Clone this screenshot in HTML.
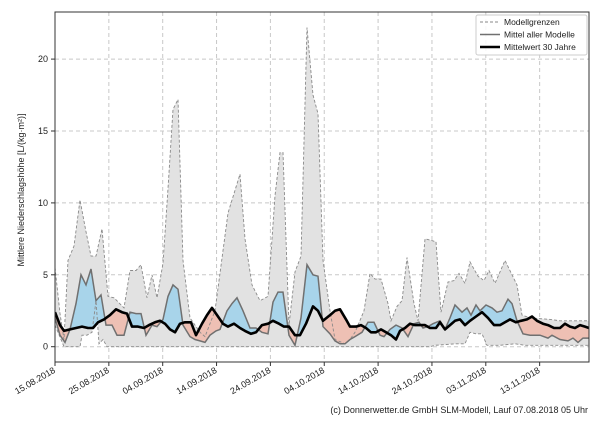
<!DOCTYPE html>
<html><head><meta charset="utf-8"><style>
body{margin:0;background:#fff;width:600px;height:420px;overflow:hidden;font-family:"Liberation Sans",sans-serif}
</style></head><body>
<svg id="s" width="600" height="420" xmlns="http://www.w3.org/2000/svg" font-family="Liberation Sans, sans-serif"></svg>
<script>
const Y=v=>346.7-v*14.38;
const mx=[[55,5.5],[60,2.3],[64,0.5],[68,6],[74,7],[80,10.2],[86,8],[91,6.3],[96,6.3],[102,8.2],[108,3.5],[114,3.4],[124,2.7],[130,5.3],[136,5.3],[141,5.7],[147,3.4],[152,5],[157,3.4],[163,5.8],[168,11],[173,16.5],[178,17.2],[183,6],[190,2],[195,1.5],[200,1],[205,0.7],[215,2.5],[228,9.3],[240,12],[245,7.5],[252,4.3],[260,3.2],[268,3.5],[275,10.5],[280,13.5],[283,13.5],[289,1.5],[295,5.2],[301,6.3],[307,22.2],[313,17.5],[318,16.2],[323,6],[330,2.5],[335,0.5],[345,0.2],[350,0.5],[355,1],[364,2.5],[370,5.1],[375,4.7],[381,4.7],[388,3],[391,1.8],[397,2.8],[402,3.2],[407,6.2],[414,3],[418,1.8],[425,7.5],[436,7.3],[441,2.4],[448,4.5],[454,4.6],[459,5.1],[465,4.4],[470,5.9],[478,4.9],[484,4.6],[489,5.3],[495,4.4],[505,6],[512,5],[517,4.3],[522,2.2],[530,2],[550,1.9],[560,1.8],[589,1.8]];
const mn=[[55,1.5],[64,0],[80,0],[82,0.8],[87,0.8],[92,1],[96,3.2],[99,0.2],[103,0.5],[107,0],[430,0],[435,0.1],[455,0.2],[465,0.2],[470,1.0],[476,0.9],[482,0.9],[487,0.1],[500,0.1],[515,0.2],[525,0.1],[589,0.1]];
const me=[[55,2],[60,0.8],[65,0.3],[70,1.2],[76,3],[81,5],[86,4.3],[91,5.4],[96,3.2],[101,3.6],[106,1.5],[112,1.5],[117,0.8],[124,0.8],[130,2.4],[136,2.3],[141,2.3],[146,0.8],[152,1.5],[157,1.4],[163,1.9],[168,3.5],[173,4.3],[178,4],[183,1.5],[190,0.7],[195,0.5],[200,0.4],[205,0.3],[210,0.8],[216,1.1],[220,1.2],[227,2.5],[232,3],[237,3.4],[243,2.5],[250,1.3],[256,1.3],[262,1.0],[268,0.9],[273,3.1],[278,3.8],[283,3.8],[289,0.8],[295,0.1],[301,2],[307,5.7],[313,5],[318,4.9],[323,1.4],[330,0.9],[335,0.4],[340,0.2],[345,0.2],[350,0.5],[355,0.7],[362,1.0],[368,1.7],[374,1.7],[380,0.8],[384,0.7],[390,1.2],[396,1.5],[402,1.3],[408,0.7],[414,1.6],[419,1.7],[423,1.3],[428,1.4],[433,1.6],[440,1.8],[445,1.2],[450,2.0],[455,2.9],[462,2.4],[467,2.7],[471,2.2],[476,2.9],[480,2.5],[486,2.9],[492,2.7],[497,2.4],[502,2.5],[508,3.3],[512,3.0],[517,1.8],[523,0.9],[530,0.8],[540,0.8],[548,0.6],[552,0.8],[560,0.5],[568,0.4],[573,0.6],[578,0.3],[583,0.6],[589,0.6]];
const cl=[[55,2.4],[60,1.5],[64,1.1],[70,1.2],[76,1.3],[82,1.4],[88,1.3],[93,1.3],[98,1.7],[104,1.9],[110,2.2],[116,2.6],[122,2.4],[127,2.3],[132,1.4],[138,1.4],[144,1.3],[149,1.5],[155,1.7],[160,1.8],[165,1.6],[170,1.2],[175,1.0],[180,1.6],[185,1.7],[191,1.7],[196,0.8],[202,1.6],[207,2.2],[212,2.7],[218,2.1],[223,1.6],[228,1.4],[234,1.6],[240,1.3],[245,1.1],[251,0.9],[256,1.0],[262,1.5],[268,1.6],[273,1.8],[279,1.6],[284,1.4],[289,1.4],[295,0.8],[300,0.8],[306,1.6],[313,2.8],[318,2.5],[323,1.8],[330,2.2],[335,2.5],[340,2.6],[346,1.9],[350,1.4],[356,1.4],[361,1.5],[366,1.3],[371,1.0],[376,1.0],[381,1.2],[386,1.0],[391,0.8],[396,0.5],[400,1.1],[405,1.3],[410,1.6],[415,1.5],[420,1.5],[425,1.5],[430,1.3],[436,1.3],[440,1.7],[445,1.2],[450,1.5],[455,1.8],[460,1.9],[465,1.5],[470,1.8],[476,2.1],[482,2.4],[488,2.0],[494,1.5],[500,1.5],[505,1.7],[510,1.9],[516,1.7],[521,1.8],[527,1.9],[532,2.1],[537,1.8],[543,1.6],[548,1.5],[554,1.3],[560,1.3],[565,1.6],[570,1.4],[575,1.3],[580,1.5],[585,1.4],[589,1.3]];
const P=a=>a.map(p=>p[0]+','+Y(p[1]).toFixed(1)).join(' ');
const R=a=>a.slice().reverse();
let h='';
h+='<defs><clipPath id="pa"><rect x="55" y="12" width="534" height="350"/></clipPath>';
h+='<clipPath id="aboveC"><polygon points="55,0 '+P(cl)+' 589,0"/></clipPath>';
h+='<clipPath id="belowC"><polygon points="55,400 '+P(cl)+' 589,400"/></clipPath></defs>';
// grid
let g='';
[0,5,10,15,20].forEach(v=>{g+=`<line x1="55" x2="589" y1="${Y(v)}" y2="${Y(v)}" stroke="#c8c8c8" stroke-dasharray="4,3"/>`;});
for(let i=1;i<10;i++){const x=55+i*53.85;g+=`<line x1="${x}" x2="${x}" y1="12" y2="362" stroke="#c8c8c8" stroke-dasharray="4,3"/>`;}
h+=g;
h+='<g clip-path="url(#pa)">';
h+='<polygon points="'+P(mx)+' '+P(R(mn))+'" fill="#e2e2e2"/>';
h+='<g clip-path="url(#aboveC)"><polygon points="55,400 '+P(me)+' 589,400" fill="#a8d4ea"/></g>';
h+='<g clip-path="url(#belowC)"><polygon points="55,0 '+P(me)+' 589,0" fill="#eec0b4"/></g>';
h+='<polyline points="'+P(mx)+'" fill="none" stroke="#8a8a8a" stroke-width="0.9" stroke-dasharray="3,2"/>';
h+='<polyline points="'+P(mn)+'" fill="none" stroke="#8a8a8a" stroke-width="0.9" stroke-dasharray="3,2"/>';
h+='<polyline points="'+P(me)+'" fill="none" stroke="#707070" stroke-width="1.5"/>';
h+='<polyline points="'+P(cl)+'" fill="none" stroke="#000" stroke-width="2.6" stroke-linejoin="round"/>';
h+='</g>';
h+='<rect x="55" y="12" width="534" height="350" fill="none" stroke="#333" stroke-width="1"/>';
[0,5,10,15,20].forEach(v=>{h+=`<line x1="51" x2="55" y1="${Y(v)}" y2="${Y(v)}" stroke="#333"/><text x="48" y="${Y(v)+3}" font-size="9" text-anchor="end" fill="#222">${v}</text>`;});
const d=['15.08.2018','25.08.2018','04.09.2018','14.09.2018','24.09.2018','04.10.2018','14.10.2018','24.10.2018','03.11.2018','13.11.2018'];
d.forEach((t,i)=>{const x=55+i*53.85;h+=`<line x1="${x}" x2="${x}" y1="362" y2="366" stroke="#333"/><text transform="translate(${x+1},372) rotate(-30)" font-size="9" text-anchor="end" fill="#222">${t}</text>`;});
h+='<text transform="translate(24,190) rotate(-90)" font-size="9" text-anchor="middle" fill="#222">Mittlere Niederschlagshöhe [L/(kg·m²)]</text>';
h+='<text x="588" y="413" font-size="9" text-anchor="end" fill="#222">(c) Donnerwetter.de GmbH SLM-Modell, Lauf 07.08.2018 05 Uhr</text>';
h+='<rect x="476" y="15" width="111" height="40" fill="#fff" fill-opacity="0.85" stroke="#ccc" rx="2"/>';
h+='<line x1="480" x2="500" y1="22" y2="22" stroke="#888" stroke-dasharray="3,2"/><text x="504" y="25" font-size="8.5" fill="#222">Modellgrenzen</text>';
h+='<line x1="480" x2="500" y1="34.5" y2="34.5" stroke="#707070" stroke-width="1.5"/><text x="504" y="37.5" font-size="8.5" fill="#222">Mittel aller Modelle</text>';
h+='<line x1="480" x2="500" y1="47" y2="47" stroke="#000" stroke-width="2.6"/><text x="504" y="50" font-size="8.5" fill="#222">Mittelwert 30 Jahre</text>';
document.getElementById('s').innerHTML=h;
</script>
</body></html>
